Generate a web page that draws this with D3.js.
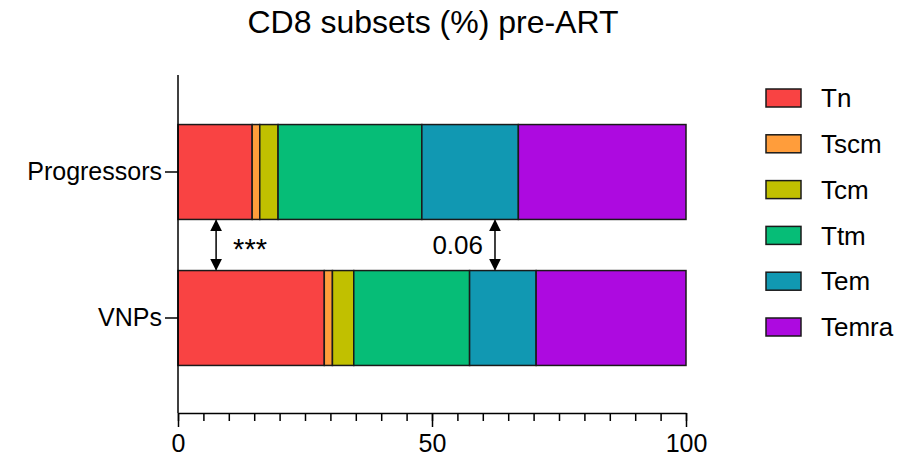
<!DOCTYPE html>
<html>
<head>
<meta charset="utf-8">
<script src="https://cdn.jsdelivr.net/npm/d3@7"></script>
<style>
  body { margin: 0; background: #fff; }
  text { font-family: "Liberation Sans", Arial, sans-serif; fill: #000; }
</style>
</head>
<body>
<script>
"use strict";

// data
let groups = ["Progressors", "VNPs"];
let subsets = ["Tn", "Tscm", "Tcm", "Ttm", "Tem", "Temra"];
let colors = ["#f94343", "#ff9d3b", "#c1c000", "#06bd77", "#1198b2", "#ad0ae0"];
let progressors = [14.6, 1.5, 3.6, 28.3, 19.0, 33.0];
let vnps = [28.8, 1.6, 4.2, 22.8, 13.1, 29.5];
let xTicks = [0, 50, 100];
let pAt = [7.5, 62.4];
let pLabels = ["***", "0.06"];

let width = 913, height = 461;

let svg = d3.select("body").append("svg")
    .attr("width", width).attr("height", height);

let rows = groups.map((g, i) => {
    let r = { group: g };
    let vals = i === 0 ? progressors : vnps;
    subsets.forEach((s, j) => r[s] = vals[j]);
    return r;
});

let x = d3.scaleLinear().domain([0, 100]).range([178, 686]);
let y = d3.scaleBand().domain(groups).range([99, 391])
    .paddingInner(0.35).paddingOuter(0.175);
let color = d3.scaleOrdinal().domain(subsets).range(colors);

let stack = d3.stack().keys(subsets)(rows);

// title
svg.append("text")
    .attr("x", 433).attr("y", 33)
    .attr("text-anchor", "middle")
    .style("font-size", "32px")
    .text("CD8 subsets (%) pre-ART");

// bars
svg.append("g")
    .selectAll("g")
    .data(stack)
    .enter()
    .append("g")
    .attr("fill", d => color(d.key))
    .selectAll("rect")
    .data(d => d)
    .enter()
    .append("rect")
    .attr("x", d => x(d[0]))
    .attr("width", d => x(d[1]) - x(d[0]))
    .attr("y", d => y(d.data.group))
    .attr("height", y.bandwidth())
    .attr("stroke", "#1a1a1a")
    .attr("stroke-width", 1.5);

// x axis: minor ticks every 5, major at 0/50/100
svg.append("g")
    .attr("transform", "translate(0,413)")
    .call(d3.axisBottom(x).tickValues(d3.range(0, 101, 5)).tickSize(8).tickFormat(""))
    .call(g => g.select(".domain").remove())
    .selectAll("line").attr("stroke", "#000").attr("stroke-width", 1.5);

let xAxis = svg.append("g").attr("transform", "translate(0,413)")
    .call(d3.axisBottom(x).tickValues(xTicks).tickSize(14).tickSizeOuter(0).tickPadding(7));
xAxis.selectAll("text").style("font-size", "25px").attr("fill", "#000");
xAxis.selectAll("line, path").attr("stroke", "#000").attr("stroke-width", 1.5);

// y axis
let yAxis = svg.append("g").attr("transform", "translate(178,0)")
    .call(d3.axisLeft(y).tickSize(13).tickSizeOuter(0).tickPadding(3));
yAxis.select(".domain").attr("d", "M0,75V413");
yAxis.selectAll("line, path").attr("stroke", "#000").attr("stroke-width", 1.5);
yAxis.selectAll("text").style("font-size", "25px").attr("fill", "#000");

// double arrows between bars
let defs = svg.append("defs");
defs.append("marker")
    .attr("id", "head")
    .attr("viewBox", "0 0 10 12")
    .attr("refX", 9).attr("refY", 6)
    .attr("markerUnits", "userSpaceOnUse")
    .attr("markerWidth", 14).attr("markerHeight", 14)
    .attr("orient", "auto-start-reverse")
    .append("path")
    .attr("d", "M0,1L10,6L0,11Z")
    .attr("fill", "#000");

let yTop = y("Progressors") + y.bandwidth();
let yBot = y("VNPs");

svg.append("g")
    .selectAll("line")
    .data(pAt)
    .enter()
    .append("line")
    .attr("x1", d => x(d)).attr("x2", d => x(d))
    .attr("y1", yTop + 1).attr("y2", yBot - 1)
    .attr("stroke", "#000").attr("stroke-width", 1.5)
    .attr("marker-start", "url(#head)")
    .attr("marker-end", "url(#head)");

svg.append("text")
    .attr("x", x(pAt[0]) + 17).attr("y", (yTop + yBot) / 2 + 14)
    .style("font-size", "29px")
    .text(pLabels[0]);
svg.append("text")
    .attr("x", x(pAt[1]) - 12).attr("y", (yTop + yBot) / 2 + 9)
    .attr("text-anchor", "end")
    .style("font-size", "26px")
    .text(pLabels[1]);

// legend
let legend = svg.append("g")
    .selectAll("g")
    .data(subsets)
    .enter()
    .append("g")
    .attr("transform", (d, i) => `translate(766,${98 + i * 45.8})`);
legend.append("rect")
    .attr("x", 0).attr("y", -9)
    .attr("width", 35).attr("height", 18)
    .attr("fill", d => color(d))
    .attr("stroke", "#1a1a1a").attr("stroke-width", 1.5);
legend.append("text")
    .attr("x", 55).attr("y", 0).attr("dy", "0.35em")
    .style("font-size", "26px")
    .text(d => d);
</script>
</body>
</html>
